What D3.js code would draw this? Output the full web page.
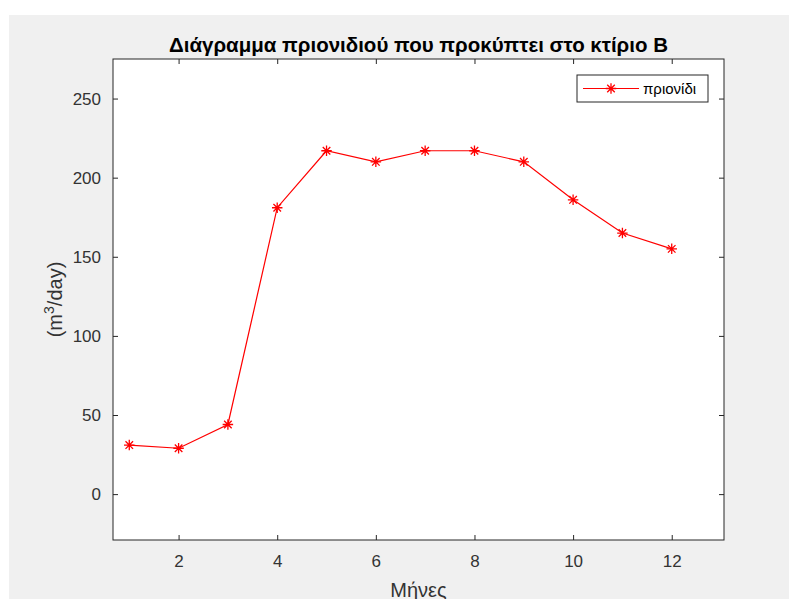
<!DOCTYPE html>
<html>
<head>
<meta charset="utf-8">
<script src="https://cdn.jsdelivr.net/npm/d3@7"></script>
<style>
  body { margin: 0; background: #fff; }
  svg { display: block; font-family: "Liberation Sans", Arial, Helvetica, sans-serif; }
</style>
</head>
<body>
<script>
// months and daily sawdust volume (m3/day)
var months = [1, 2, 3, 4, 5, 6, 7, 8, 9, 10, 11, 12];
var values = [31, 29, 44, 181, 217, 210, 217, 217, 210, 186, 165, 155];
var xTicks = [2, 4, 6, 8, 10, 12];
var yTicks = [0, 50, 100, 150, 200, 250];
var seriesName = "πριονίδι";

var w = 789, h = 599;
var axCol = "#262626";

var svg = d3.select("body").append("svg")
    .attr("width", w)
    .attr("height", h);

// figure background
svg.append("rect")
    .attr("x", 9).attr("y", 15)
    .attr("width", w - 9).attr("height", h - 15)
    .attr("fill", "#f0f0f0");

var pL = 113, pR = 724, pT = 59, pB = 540;

var x = d3.scaleLinear().domain([0.67, 13.06]).range([pL, pR]);
var y = d3.scaleLinear().domain([-29, 275]).range([pB, pT]);

svg.append("rect")
    .attr("x", pL).attr("y", pT)
    .attr("width", pR - pL).attr("height", pB - pT)
    .attr("fill", "#fff");

// asterisk marker: plus + times
var star = {
  draw: function(ctx, size) {
    var r = Math.sqrt(size) / 2, d = r * 0.72;
    ctx.moveTo(-r, 0); ctx.lineTo(r, 0);
    ctx.moveTo(0, -r); ctx.lineTo(0, r);
    ctx.moveTo(-d, -d); ctx.lineTo(d, d);
    ctx.moveTo(-d, d); ctx.lineTo(d, -d);
  }
};

var xAxis = d3.axisBottom(x).tickValues(xTicks).tickSize(-5).tickPadding(15);
var yAxis = d3.axisLeft(y).tickValues(yTicks).tickSize(-5).tickPadding(12);

var gx = svg.append("g").attr("transform", "translate(0," + pB + ")").call(xAxis);
var gy = svg.append("g").attr("transform", "translate(" + pL + ",0)").call(yAxis);
var gx2 = svg.append("g").attr("transform", "translate(0," + pT + ")")
    .call(d3.axisTop(x).tickValues(xTicks).tickSize(-5).tickFormat(""));
var gy2 = svg.append("g").attr("transform", "translate(" + pR + ",0)")
    .call(d3.axisRight(y).tickValues(yTicks).tickSize(-5).tickFormat(""));

[gx, gy, gx2, gy2].forEach(function(g) {
  g.attr("font-family", null).attr("font-size", null);
  g.select(".domain").remove();
  g.selectAll("line").attr("stroke", axCol);
  g.selectAll("text").attr("fill", "#333").style("font-size", "17px");
});

svg.append("rect")
    .attr("x", pL).attr("y", pT)
    .attr("width", pR - pL).attr("height", pB - pT)
    .attr("fill", "none").attr("stroke", axCol).attr("stroke-width", 1);

var line = d3.line()
    .x(function(d, i) { return x(months[i]); })
    .y(function(d) { return y(d); });

svg.append("path")
    .datum(values)
    .attr("d", line)
    .attr("fill", "none")
    .attr("stroke", "#ff0000")
    .attr("stroke-width", 1.2);

var sym = d3.symbol().type(star).size(110);

svg.selectAll(".pt")
    .data(values)
    .enter()
    .append("path")
    .attr("class", "pt")
    .attr("transform", function(d, i) { return "translate(" + x(months[i]) + "," + y(d) + ")"; })
    .attr("d", sym)
    .attr("fill", "none")
    .attr("stroke", "#ff0000")
    .attr("stroke-width", 1.3);

// title and labels
svg.append("text")
    .attr("x", (pL + pR) / 2).attr("y", 52)
    .attr("text-anchor", "middle")
    .style("font-size", "20.5px").style("font-weight", "bold")
    .attr("fill", "#000")
    .text("Διάγραμμα πριονιδιού που προκύπτει στο κτίριο Β");

svg.append("text")
    .attr("x", (pL + pR) / 2).attr("y", 597)
    .attr("text-anchor", "middle")
    .style("font-size", "20px")
    .attr("fill", "#333")
    .text("Μήνες");

var yl = svg.append("text")
    .attr("transform", "translate(62," + (pT + pB) / 2 + ") rotate(-90)")
    .attr("text-anchor", "middle")
    .style("font-size", "20px")
    .attr("fill", "#333");
yl.append("tspan").text("(m");
yl.append("tspan").attr("dy", -8).style("font-size", "14px").text("3");
yl.append("tspan").attr("dy", 8).text("/day)");

// legend
var leg = svg.append("g").attr("transform", "translate(577,75)");
leg.append("rect")
    .attr("width", 131).attr("height", 27)
    .attr("fill", "#fff").attr("stroke", axCol);
leg.append("line")
    .attr("x1", 6).attr("x2", 62).attr("y1", 13.5).attr("y2", 13.5)
    .attr("stroke", "#ff0000").attr("stroke-width", 1.2);
leg.append("path")
    .attr("transform", "translate(34,13.5)")
    .attr("d", sym)
    .attr("fill", "none").attr("stroke", "#ff0000").attr("stroke-width", 1.3);
leg.append("text")
    .attr("x", 66).attr("y", 19)
    .style("font-size", "15px")
    .attr("fill", "#000")
    .text(seriesName);
</script>
</body>
</html>
